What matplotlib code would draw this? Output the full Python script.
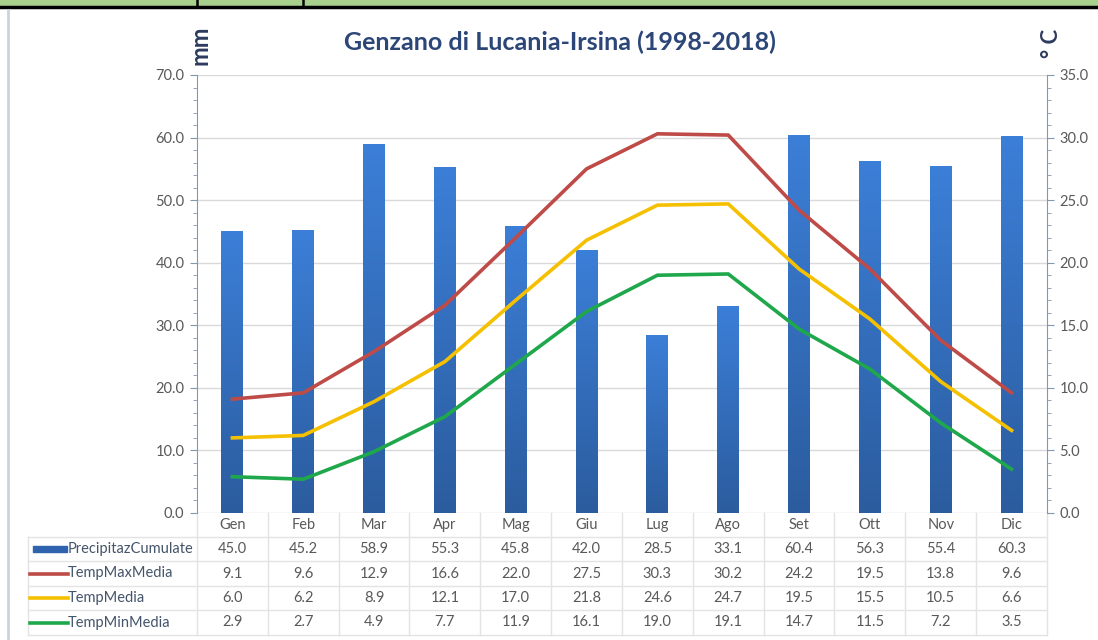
import numpy as np
import matplotlib
matplotlib.use("Agg")
import matplotlib.pyplot as plt
from matplotlib.patches import Rectangle
from matplotlib.lines import Line2D
from matplotlib.transforms import blended_transform_factory
from matplotlib.ticker import MultipleLocator, FormatStrFormatter

plt.rcParams['font.family'] = ['Lato', 'DejaVu Sans']

months = ['Gen', 'Feb', 'Mar', 'Apr', 'Mag', 'Giu', 'Lug', 'Ago', 'Set', 'Ott', 'Nov', 'Dic']
precip = [45.0, 45.2, 58.9, 55.3, 45.8, 42.0, 28.5, 33.1, 60.4, 56.3, 55.4, 60.3]
tmax = [9.1, 9.6, 12.9, 16.6, 22.0, 27.5, 30.3, 30.2, 24.2, 19.5, 13.8, 9.6]
tmed = [6.0, 6.2, 8.9, 12.1, 17.0, 21.8, 24.6, 24.7, 19.5, 15.5, 10.5, 6.6]
tmin = [2.9, 2.7, 4.9, 7.7, 11.9, 16.1, 19.0, 19.1, 14.7, 11.5, 7.2, 3.5]
series_names = ['PrecipitazCumulate', 'TempMaxMedia', 'TempMedia', 'TempMinMedia']

W, H = 1098, 640
fig = plt.figure(figsize=(W / 100, H / 100), dpi=100)
fig.patch.set_facecolor('white')

def fx(px):
    return px / W

def fy(py):
    return 1 - py / H

ax_l, ax_r, ax_t, ax_b = 197, 1047, 75, 513
ax = fig.add_axes([fx(ax_l), fy(ax_b), fx(ax_r - ax_l), (ax_b - ax_t) / H])
ax2 = ax.twinx()

text_col = '#595959'
axis_col = '#8497b0'
grid_col = '#d9d9d9'
fs = 10.5

x = np.arange(len(months))

# bars with vertical gradient
bar_w = 0.31
grad = np.linspace(0, 1, 256).reshape(-1, 1)
cmap = matplotlib.colors.LinearSegmentedColormap.from_list('b', ['#2b5c9e', '#3c7fd8'])
bars = ax.bar(x, precip, width=bar_w, color='#3470c4', zorder=2)
for b in bars:
    im = ax.imshow(grad, extent=[b.get_x(), b.get_x() + b.get_width(), 0, b.get_height()],
                   origin='lower', aspect='auto', cmap=cmap, zorder=2.5)
    im.set_clip_path(b)

ax.set_xlim(-0.5, len(months) - 0.5)
ax.set_ylim(0, 70)
ax2.set_ylim(0, 35)

lw = 2.6
ax2.plot(x, tmax, color='#be4b48', lw=lw, solid_joinstyle='miter', zorder=3)
ax2.plot(x, tmed, color='#f5c000', lw=lw, solid_joinstyle='miter', zorder=3)
ax2.plot(x, tmin, color='#1fa84b', lw=lw, solid_joinstyle='miter', zorder=3)

ax.yaxis.set_major_locator(MultipleLocator(10))
ax.yaxis.set_minor_locator(MultipleLocator(2))
ax.yaxis.set_major_formatter(FormatStrFormatter('%.1f'))
ax2.yaxis.set_major_locator(MultipleLocator(5))
ax2.yaxis.set_minor_locator(MultipleLocator(1))
ax2.yaxis.set_major_formatter(FormatStrFormatter('%.1f'))
ax.grid(axis='y', color=grid_col, lw=1, zorder=0)
ax.set_axisbelow(True)
ax.set_xticks([])

for a in (ax, ax2):
    for s in ('top', 'bottom'):
        a.spines[s].set_visible(False)
    a.tick_params(axis='y', which='major', length=5, color=axis_col, labelsize=fs,
                  labelcolor=text_col, pad=4)
    a.tick_params(axis='y', which='minor', length=3, color=axis_col)
ax.spines['left'].set_color(axis_col)
ax.spines['right'].set_visible(False)
ax2.spines['left'].set_visible(False)
ax2.spines['right'].set_color(axis_col)

# title and unit labels
fig.text(fx(560), fy(42), 'Genzano di Lucania-Irsina (1998-2018)', ha='center', va='center',
         fontsize=18, fontweight='bold', color='#2b4677')
fig.text(fx(200), fy(45), 'mm', ha='center', va='center', rotation=90,
         fontsize=17, fontweight='bold', color='#2b3a5e')
fig.text(fx(1052), fy(43), '° C', ha='center', va='center', rotation=90,
         fontsize=16, fontweight='bold', color='#2b3a5e')

# data table below the plot
tr = blended_transform_factory(ax.transData, fig.transFigure)
row_lines = [513, 537, 561, 586, 610, 635]
tab_left = 28
for py in row_lines[1:]:
    fig.add_artist(Line2D([fx(tab_left), fx(ax_r)], [fy(py), fy(py)], color='#e3e3e3', lw=1))
for k in range(len(months) + 1):
    ax.add_artist(Line2D([k - 0.5, k - 0.5], [fy(513), fy(635)], transform=tr,
                         color='#e3e3e3', lw=1, clip_on=False))
fig.add_artist(Line2D([fx(tab_left), fx(tab_left)], [fy(537), fy(635)], color='#e3e3e3', lw=1))

header_y = (row_lines[0] + row_lines[1]) / 2
for i, m in enumerate(months):
    ax.text(i, fy(header_y), m, transform=tr, ha='center', va='center',
            fontsize=fs, color=text_col, clip_on=False)

rows = [precip, tmax, tmed, tmin]
key_cols = ['#2f63ad', '#be4b48', '#f5c000', '#1fa84b']
for r, vals in enumerate(rows):
    cy = (row_lines[r + 1] + row_lines[r + 2]) / 2
    for i, v in enumerate(vals):
        ax.text(i, fy(cy), f'{v:.1f}', transform=tr, ha='center', va='center',
                fontsize=fs, color=text_col, clip_on=False)
    fig.text(fx(68), fy(cy), series_names[r], ha='left', va='center',
             fontsize=fs, color='#44546a')
    if r == 0:
        fig.add_artist(Rectangle((fx(33), fy(cy + 3)), fx(34), 6 / H, color=key_cols[r]))
    else:
        fig.add_artist(Line2D([fx(30), fx(68)], [fy(cy), fy(cy)], color=key_cols[r], lw=lw))

# frame decorations at top and left
fig.add_artist(Rectangle((0, fy(5)), 1, 5 / H, color='#a9d18e'))
fig.add_artist(Line2D([0, 1], [fy(6.5), fy(6.5)], color='black', lw=2.5))
for px in (197, 303):
    fig.add_artist(Line2D([fx(px), fx(px)], [1, fy(5)], color='black', lw=1.8))
fig.add_artist(Line2D([fx(8), fx(8)], [fy(10), 0], color='#c9d3e0', lw=2))

fig.savefig('out.png', dpi=100)
